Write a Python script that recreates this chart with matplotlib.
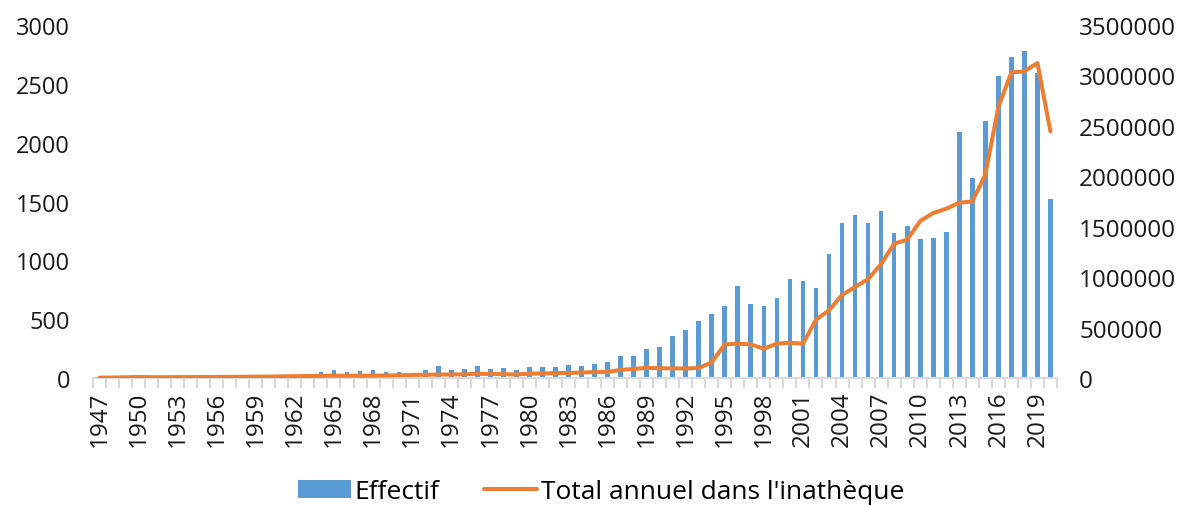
import matplotlib
matplotlib.use("Agg")
import matplotlib.pyplot as plt
import numpy as np

bar_blue = "#5B9BD5"
line_orange = "#ED7D31"

years = list(range(1947, 2021))

# Effectif (left axis)
effectif = [3, 3, 4, 5, 4, 4, 5, 5, 5, 6, 6, 7, 7, 8, 9, 10, 12,
            51, 65, 53, 62, 64, 55, 55, 45, 65, 102, 65, 80, 100, 80,
            85, 70, 95, 95, 93, 110, 105, 122, 140, 185, 185, 250, 265,
            353, 408, 487, 540, 612, 782, 625, 608, 680, 838, 821, 765,
            1056, 1314, 1385, 1314, 1422, 1232, 1288, 1181, 1192, 1243,
            2090, 1699, 2186, 2566, 2724, 2781, 2594, 1523]

# Total annuel dans l'inathèque (right axis)
total = [3000, 5000, 7000, 10000, 8000, 8000, 9000, 9000, 10000, 10000,
         11000, 12000, 13000, 14000, 16000, 18000, 20000,
         22000, 23000, 23000, 23000, 23000, 25000, 27000, 30000, 32000,
         34000, 35000, 36000, 42000, 40000, 38000, 35000, 43000, 45000,
         48000, 50000, 55000, 58000, 60000, 80000, 90000, 100000, 97000,
         95000, 95000, 99000, 155000, 333000, 340000, 333000, 290000,
         340000, 350000, 340000, 578000, 670000, 823000, 902000, 981000,
         1130000, 1332000, 1371000, 1556000, 1636000, 1678000, 1738000,
         1751000, 2016000, 2687000, 3030000, 3040000, 3123000, 2445000]

plt.rcParams['font.family'] = ['Open Sans', 'DejaVu Sans']

x = np.arange(len(years))

fig = plt.figure(figsize=(11.86, 5.06), dpi=100)
ax = fig.add_axes([0.0784, 0.251, 0.8128, 0.6976])
ax2 = ax.twinx()

ax.bar(x, effectif, width=0.36, color=bar_blue, label='Effectif', zorder=2)
ax2.plot(x, total, color=line_orange, lw=2.9, label="Total annuel dans l'inathèque",
         solid_capstyle='round', solid_joinstyle='round')

ax.set_xlim(-0.5, len(years) - 0.5)
ax.set_ylim(0, 3000)
ax.set_yticks(np.arange(0, 3001, 500))
ax2.set_ylim(0, 3500000)
ax2.set_yticks(np.arange(0, 3500001, 500000))
ax2.set_yticklabels([str(v) for v in range(0, 3500001, 500000)])

ax.set_xticks(x[::3])
ax.set_xticklabels([str(y) for y in years[::3]], rotation=90)
ax.set_xticks(np.arange(-0.5, len(years), 1), minor=True)

for a in (ax, ax2):
    for s in ('top', 'left', 'right', 'bottom'):
        a.spines[s].set_visible(False)
ax.spines['bottom'].set_visible(True)
ax.spines['bottom'].set_color('#D9D9D9')
ax.spines['bottom'].set_linewidth(1.5)

ax.tick_params(axis='x', which='major', length=0, pad=9, labelsize=17.5, labelcolor='#1a1a1a')
ax.tick_params(axis='x', which='minor', length=7, width=1.5, color='#D9D9D9')
ax.tick_params(axis='y', length=0, labelsize=17, labelcolor='#1a1a1a', pad=16.5)
ax2.tick_params(axis='y', length=0, labelsize=17.5, labelcolor='#1a1a1a', pad=16)
ax2.tick_params(axis='x', length=0)

h1, l1 = ax.get_legend_handles_labels()
h2, l2 = ax2.get_legend_handles_labels()
fig.legend(h1 + h2, l1 + l2, loc='lower center', bbox_to_anchor=(0.507, -0.045),
           ncol=2, frameon=False, fontsize=19, handlelength=2.0,
           handletextpad=0.15, columnspacing=1.7)

fig.savefig('out.png', dpi=100)
